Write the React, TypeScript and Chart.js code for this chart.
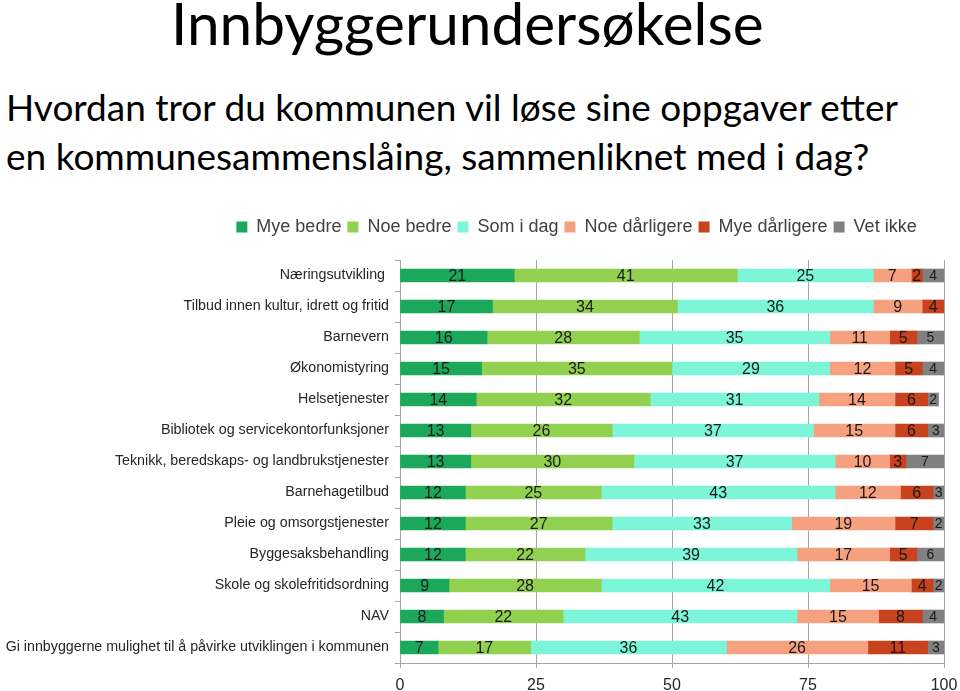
import React, { useEffect, useRef } from "react";
import { Chart, registerables } from "chart.js";

Chart.register(...registerables);

const categories = [
  "Næringsutvikling ",
  "Tilbud innen kultur, idrett og fritid",
  "Barnevern",
  "Økonomistyring",
  "Helsetjenester",
  "Bibliotek og servicekontorfunksjoner",
  "Teknikk, beredskaps- og landbrukstjenester",
  "Barnehagetilbud",
  "Pleie og omsorgstjenester",
  "Byggesaksbehandling",
  "Skole og skolefritidsordning",
  "NAV",
  "Gi innbyggerne mulighet til å påvirke utviklingen i kommunen",
];

const seriesNames = ["Mye bedre", "Noe bedre", "Som i dag", "Noe dårligere", "Mye dårligere", "Vet ikke"];

const myeBedre = [21, 17, 16, 15, 14, 13, 13, 12, 12, 12, 9, 8, 7];
const noeBedre = [41, 34, 28, 35, 32, 26, 30, 25, 27, 22, 28, 22, 17];
const somIDag = [25, 36, 35, 29, 31, 37, 37, 43, 33, 39, 42, 43, 36];
const noeDarligere = [7, 9, 11, 12, 14, 15, 10, 12, 19, 17, 15, 15, 26];
const myeDarligere = [2, 4, 5, 5, 6, 6, 3, 6, 7, 5, 4, 8, 11];
const vetIkke = [4, 0, 5, 4, 2, 3, 7, 3, 2, 6, 2, 4, 3];

const xTicks = [0, 25, 50, 75, 100];

const colors = ["#1BA85A", "#92D050", "#7DF5D8", "#F5A07F", "#C7421D", "#808080"];

const labelPlugin = {
  id: "segLabels",
  afterDatasetsDraw(chart: any) {
    const ctx = chart.ctx;
    ctx.save();
    ctx.fillStyle = "#1a1a1a";
    ctx.textAlign = "center";
    ctx.textBaseline = "middle";
    chart.data.datasets.forEach((ds: any, di: number) => {
      const meta = chart.getDatasetMeta(di);
      ctx.font = di === 5 ? "14px Arial, 'Liberation Sans'" : "16px Arial, 'Liberation Sans'";
      meta.data.forEach((bar: any, i: number) => {
        const v = ds.data[i];
        if (!v) return;
        const right = Math.min(bar.x, chart.chartArea.right);
        const cx = (right + bar.base) / 2;
        ctx.fillText(String(v), cx, bar.y + 1);
      });
    });
    ctx.restore();
  },
};

const legendPlace = {
  id: "legendPlace",
  afterLayout(chart: any) {
    const lg = chart.legend;
    if (!lg) return;
    const h = lg.height;
    lg.left = 209;
    lg.right = 944;
    lg.width = 735;
    lg.top = 12;
    lg.bottom = 12 + h;
  },
};

export default function App() {
  const ref = useRef<HTMLCanvasElement | null>(null);
  useEffect(() => {
    if (!ref.current) return;
    const data = [myeBedre, noeBedre, somIDag, noeDarligere, myeDarligere, vetIkke];
    const chart = new Chart(ref.current, {
      type: "bar",
      data: {
        labels: categories,
        datasets: seriesNames.map((n, i) => ({
          label: n,
          data: data[i],
          backgroundColor: colors[i],
          borderWidth: 0,
          barThickness: 13,
        })),
      },
      options: {
        indexAxis: "y",
        animation: false,
        responsive: false,
        devicePixelRatio: 1,
        layout: { padding: { left: 0, right: 16, top: 26, bottom: 0 } },
        plugins: {
          legend: {
            position: "top",
            labels: {
              boxWidth: 11,
              boxHeight: 11,
              padding: 6,
              color: "#404040",
              font: { size: 18, family: "Arial, 'Liberation Sans'" },
            },
          },
          tooltip: { enabled: false },
        },
        scales: {
          x: {
            stacked: true,
            min: 0,
            max: 100,
            afterBuildTicks: (s: any) => {
              s.ticks = xTicks.map((v) => ({ value: v }));
            },
            afterFit: (s: any) => {
              s.height = 28;
              s.paddingLeft = 0;
              s.paddingRight = 0;
            },
            grid: { color: "#a6a6a6", tickLength: 5, lineWidth: 1 },
            border: { color: "#a6a6a6" },
            ticks: {
              padding: 8,
              color: "#262626",
              font: { size: 16, family: "Arial, 'Liberation Sans'" },
            },
          },
          y: {
            stacked: true,
            afterFit: (s: any) => {
              s.width = 400;
            },
            grid: { offset: true, drawOnChartArea: false, color: "#a6a6a6", tickLength: 5 },
            border: { color: "#a6a6a6" },
            ticks: {
              padding: 6,
              color: "#262626",
              autoSkip: false,
              font: { size: 14.25, family: "Arial, 'Liberation Sans'" },
            },
          },
        },
      },
      plugins: [labelPlugin, legendPlace],
    });
    return () => chart.destroy();
  }, []);

  return (
    <div style={{ position: "absolute", left: 0, top: 0, width: 960, height: 691, background: "#fff" }}>
      <div
        style={{
          position: "absolute",
          left: 171,
          top: -14,
          fontFamily: "Lato, 'Open Sans', sans-serif",
          fontSize: 58.5,
          lineHeight: "72px",
          color: "#000",
          whiteSpace: "nowrap",
        }}
      >
        Innbyggerundersøkelse
      </div>
      <div
        style={{
          position: "absolute",
          left: 6,
          top: 83,
          fontFamily: "Lato, 'Open Sans', sans-serif",
          fontSize: 37,
          lineHeight: "48.5px",
          color: "#000",
          whiteSpace: "nowrap",
        }}
      >
        Hvordan tror du kommunen vil løse sine oppgaver etter
        <br />
        en kommunesammenslåing, sammenliknet med i dag?
      </div>
      <canvas ref={ref} width={960} height={491} style={{ position: "absolute", left: 0, top: 200, width: 960, height: 491 }} />
    </div>
  );
}
